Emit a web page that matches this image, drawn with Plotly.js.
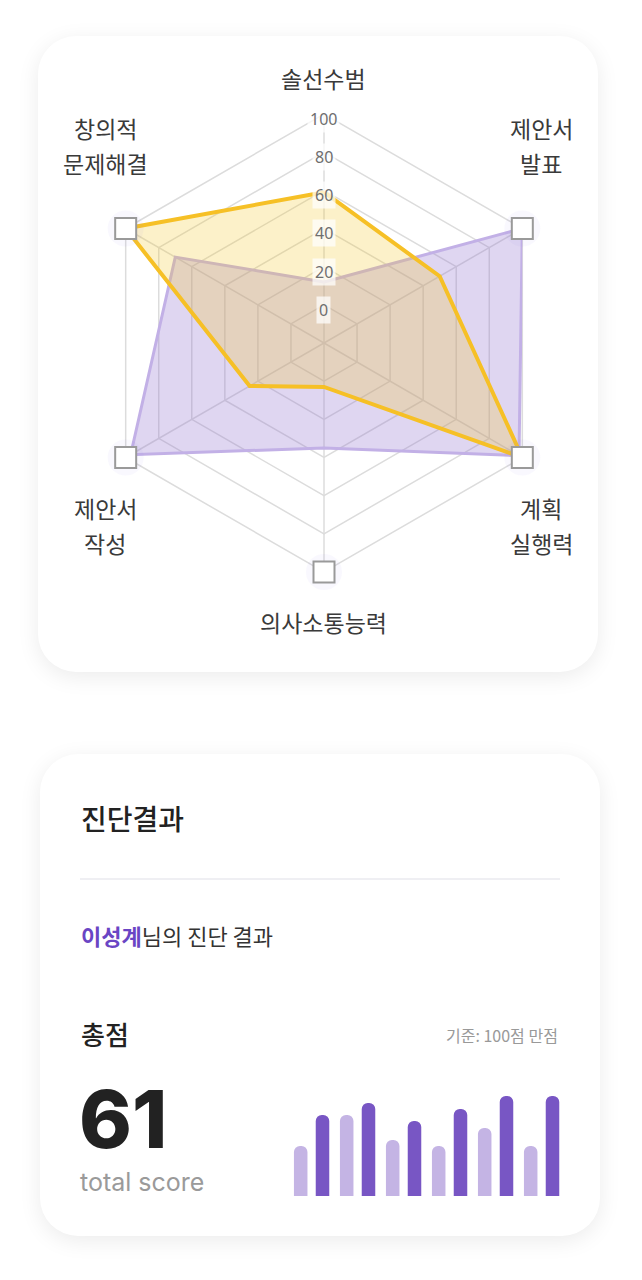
<!DOCTYPE html>
<html>
<head>
<meta charset="utf-8">
<script src="https://cdn.plot.ly/plotly-3.0.1.min.js"></script>
<style>
  body { margin: 0; background: #fff; }
  #wrap { position: relative; width: 642px; height: 1280px; }
  .card { position: absolute; background: #fff; border-radius: 38px;
          box-shadow: 0 5px 22px rgba(0, 0, 0, 0.08); }
  #chart { position: absolute; left: 0; top: 0; width: 642px; height: 1280px; }
</style>
</head>
<body>
<div id="wrap">
  <div class="card" style="left:38px;top:36px;width:560px;height:636px"></div>
  <div class="card" style="left:40px;top:754px;width:560px;height:482px"></div>
  <div id="chart"></div>
</div>
<script>
// radar data
var categories = ['솔선수범', '제안서 발표', '계획 실행력', '의사소통능력', '제안서 작성', '창의적 문제해결'];
var labelLines = [['솔선수범'], ['제안서', '발표'], ['계획', '실행력'], ['의사소통능력'], ['제안서', '작성'], ['창의적', '문제해결']];
var seriesA = [59, 50, 100, 3, 25, 100];   // yellow
var seriesB = [12, 100, 98, 35, 97, 70];   // purple
var radialTicks = [0, 20, 40, 60, 80, 100];
var markedAxes = ['제안서 발표', '계획 실행력', '의사소통능력', '제안서 작성', '창의적 문제해결'];

// bar data
var barGroups = ['1', '2', '3', '4', '5', '6'];
var lightBars = [50, 81, 56, 50, 68, 50];
var darkBars = [81, 93, 75, 87, 100, 100];

var totalScore = 61;

var W = 642, H = 1280;
var cx = 324, cy = 343, R = 229;
var rMin = -20, rMax = 100;

function px(x) { return x / W; }
function py(y) { return 1 - y / H; }

// label centres for the radar axes (pixels)
var labelPos = [[324, 78], [541, 145], [541, 525], [324, 622], [105, 525], [105, 145]];
var lineGap = 35;

var gridColor = '#dcdcdc';
var textColor = '#3a3a3a';
var kr = 'Noto Sans CJK KR, Noto Sans, sans-serif';

var traces = [];

traces.push({
    type: 'scatterpolar',
    r: seriesB.concat([seriesB[0]]),
    theta: categories.concat([categories[0]]),
    mode: 'lines',
    fill: 'toself',
    fillcolor: 'rgba(150, 120, 210, 0.30)',
    line: {color: '#c2b0e6', width: 3},
    hoverinfo: 'skip'
});

traces.push({
    type: 'scatterpolar',
    r: seriesA.concat([seriesA[0]]),
    theta: categories.concat([categories[0]]),
    mode: 'lines',
    fill: 'toself',
    fillcolor: 'rgba(245, 200, 40, 0.25)',
    line: {color: '#f6c026', width: 4},
    hoverinfo: 'skip'
});

var markR = markedAxes.map(function() { return rMax; });

traces.push({
    type: 'scatterpolar',
    r: markR,
    theta: markedAxes,
    mode: 'markers',
    marker: {symbol: 'circle', size: 36, color: 'rgba(140, 110, 240, 0.05)'},
    hoverinfo: 'skip'
});

traces.push({
    type: 'scatterpolar',
    r: markR,
    theta: markedAxes,
    mode: 'markers',
    marker: {symbol: 'square', size: 21, color: '#ffffff', line: {color: '#9a9a9a', width: 2}},
    hoverinfo: 'skip'
});

traces.push({
    type: 'bar',
    x: barGroups,
    y: lightBars,
    marker: {color: '#c4b4e4', cornerradius: 7},
    hoverinfo: 'skip'
});

traces.push({
    type: 'bar',
    x: barGroups,
    y: darkBars,
    marker: {color: '#7856c4', cornerradius: 7},
    hoverinfo: 'skip'
});

var annotations = [];

// axis labels, one annotation per line
for (var i = 0; i < labelLines.length; i++) {
    var lines = labelLines[i];
    var firstY = labelPos[i][1] - (lines.length - 1) * lineGap / 2;
    for (var j = 0; j < lines.length; j++) {
        annotations.push({
            xref: 'paper', yref: 'paper',
            x: px(labelPos[i][0]), y: py(firstY + j * lineGap),
            text: lines[j], showarrow: false,
            xanchor: 'center', yanchor: 'middle',
            font: {family: kr, size: 23, color: textColor}
        });
    }
}

// radial tick labels along the top axis
radialTicks.forEach(function(v) {
    var rp = (v - rMin) / (rMax - rMin) * R;
    annotations.push({
        xref: 'paper', yref: 'paper',
        x: px(cx), y: py(cy - rp + 5),
        text: String(v), showarrow: false,
        xanchor: 'center', yanchor: 'middle',
        bgcolor: 'rgba(255, 255, 255, 0.72)', borderpad: 2,
        font: {family: 'Noto Sans, sans-serif', size: 16, color: '#6e6e6e'}
    });
});

// result card text
annotations.push({
    xref: 'paper', yref: 'paper', x: px(79), y: py(818),
    text: '진단결과', showarrow: false, xanchor: 'left', yanchor: 'middle',
    font: {family: kr, size: 28, color: '#222', weight: 500}
});
annotations.push({
    xref: 'paper', yref: 'paper', x: px(79), y: py(935),
    text: '<b><span style="color:#6a45c4">이성계</span></b>님의 진단 결과', showarrow: false,
    xanchor: 'left', yanchor: 'middle',
    font: {family: kr, size: 22, color: '#333'}
});
annotations.push({
    xref: 'paper', yref: 'paper', x: px(79), y: py(1033),
    text: '총점', showarrow: false, xanchor: 'left', yanchor: 'middle',
    font: {family: kr, size: 26, color: '#222', weight: 500}
});
annotations.push({
    xref: 'paper', yref: 'paper', x: px(560), y: py(1035),
    text: '기준: 100점 만점', showarrow: false, xanchor: 'right', yanchor: 'middle',
    font: {family: kr, size: 16, color: '#999'}
});
annotations.push({
    xref: 'paper', yref: 'paper', x: px(77), y: py(1118),
    text: String(totalScore), showarrow: false, xanchor: 'left', yanchor: 'middle',
    font: {family: 'Inter, Lato, sans-serif', size: 80, color: '#222', weight: 800}
});
annotations.push({
    xref: 'paper', yref: 'paper', x: px(78), y: py(1182),
    text: 'total score', showarrow: false, xanchor: 'left', yanchor: 'middle',
    font: {family: 'Inter, Lato, sans-serif', size: 25, color: '#9a9a9a'}
});

var layout = {
    width: W, height: H,
    margin: {l: 0, r: 0, t: 0, b: 0},
    paper_bgcolor: 'rgba(0,0,0,0)',
    plot_bgcolor: 'rgba(0,0,0,0)',
    showlegend: false,
    polar: {
        domain: {x: [px(cx - R), px(cx + R)], y: [py(cy + R), py(cy - R)]},
        bgcolor: 'rgba(0,0,0,0)',
        gridshape: 'linear',
        radialaxis: {
            range: [rMin, rMax],
            tickvals: [0, 20, 40, 60, 80],
            angle: 90,
            layer: 'below traces',
            showline: false,
            showticklabels: false,
            ticks: '',
            gridcolor: gridColor,
            gridwidth: 1.5
        },
        angularaxis: {
            rotation: 90,
            direction: 'clockwise',
            layer: 'below traces',
            showticklabels: false,
            ticks: '',
            showline: true,
            linecolor: gridColor,
            linewidth: 1.5,
            gridcolor: gridColor,
            gridwidth: 1.5
        }
    },
    barmode: 'group',
    bargap: 0.052,
    bargroupgap: 0.38,
    xaxis: {
        domain: [px(288.6), px(564.6)],
        type: 'category',
        range: [-0.5, 5.5],
        showgrid: false, zeroline: false, showticklabels: false, ticks: '', showline: false
    },
    yaxis: {
        domain: [py(1196), py(1096)],
        range: [0, 100],
        showgrid: false, zeroline: false, showticklabels: false, ticks: '', showline: false
    },
    shapes: [{
        type: 'line', xref: 'paper', yref: 'paper',
        x0: px(80), x1: px(560), y0: py(879), y1: py(879),
        line: {color: '#efeff3', width: 2}
    }],
    annotations: annotations
};

Plotly.newPlot('chart', traces, layout, {staticPlot: true, displayModeBar: false});
</script>
</body>
</html>
